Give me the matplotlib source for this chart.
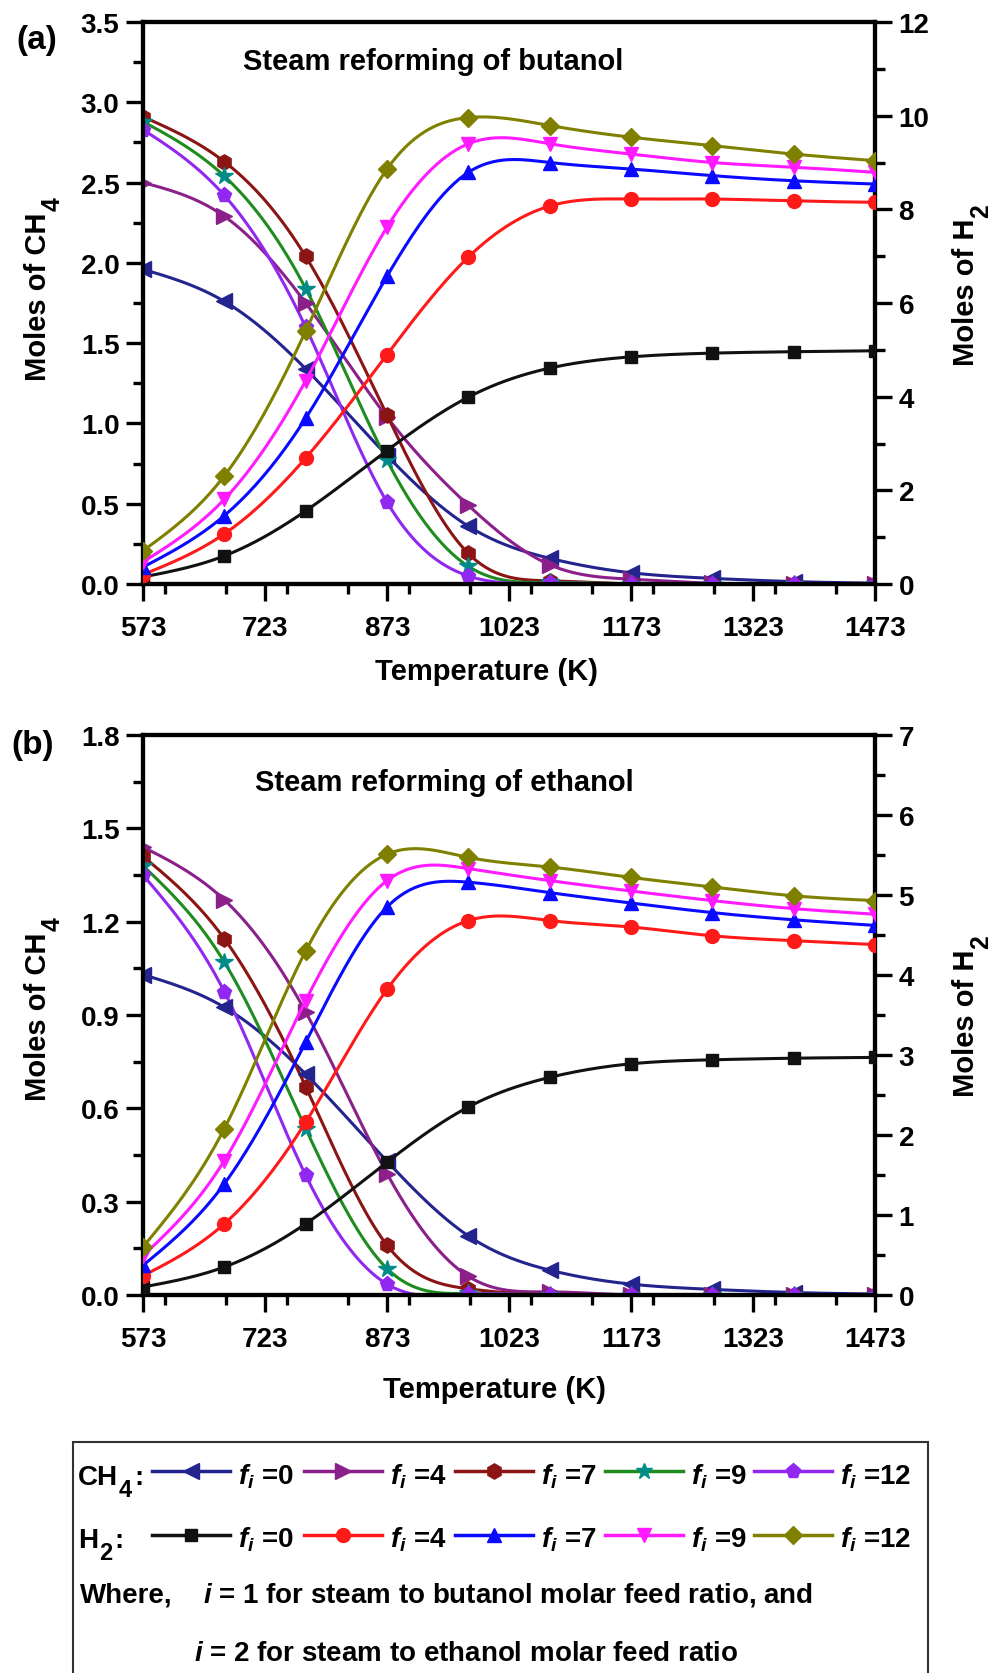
import numpy as np
import matplotlib
matplotlib.use("Agg")
import matplotlib.pyplot as plt
from matplotlib.lines import Line2D
from matplotlib.patches import Rectangle
from matplotlib.ticker import MultipleLocator, FormatStrFormatter

# -----------------------------
# Data
# -----------------------------
temps = [573, 673, 773, 873, 973, 1073, 1173, 1273, 1373, 1473]
feed_ratios = [0, 4, 7, 9, 12]

# (a) steam reforming of butanol
but_ch4_f0 = [1.96, 1.76, 1.34, 0.80, 0.36, 0.16, 0.07, 0.035, 0.015, 0.005]
but_ch4_f4 = [2.50, 2.29, 1.75, 1.04, 0.49, 0.12, 0.03, 0.005, 0.0, 0.0]
but_ch4_f7 = [2.91, 2.63, 2.04, 1.05, 0.19, 0.02, 0.0, 0.0, 0.0, 0.0]
but_ch4_f9 = [2.88, 2.54, 1.84, 0.77, 0.11, 0.01, 0.0, 0.0, 0.0, 0.0]
but_ch4_f12 = [2.83, 2.42, 1.60, 0.51, 0.05, 0.005, 0.0, 0.0, 0.0, 0.0]

but_h2_f0 = [0.15, 0.60, 1.56, 2.85, 3.99, 4.61, 4.85, 4.93, 4.96, 4.98]
but_h2_f4 = [0.20, 1.07, 2.69, 4.90, 6.98, 8.07, 8.22, 8.22, 8.18, 8.15]
but_h2_f7 = [0.36, 1.46, 3.54, 6.57, 8.79, 9.00, 8.86, 8.72, 8.61, 8.54]
but_h2_f9 = [0.47, 1.81, 4.34, 7.62, 9.40, 9.40, 9.18, 9.00, 8.90, 8.79]
but_h2_f12 = [0.71, 2.31, 5.40, 8.86, 9.96, 9.79, 9.54, 9.36, 9.18, 9.04]

# (b) steam reforming of ethanol
eth_ch4_f0 = [1.03, 0.925, 0.71, 0.43, 0.19, 0.08, 0.035, 0.018, 0.008, 0.003]
eth_ch4_f4 = [1.44, 1.27, 0.91, 0.39, 0.06, 0.01, 0.0, 0.0, 0.0, 0.0]
eth_ch4_f7 = [1.41, 1.145, 0.67, 0.16, 0.02, 0.0, 0.0, 0.0, 0.0, 0.0]
eth_ch4_f9 = [1.38, 1.07, 0.535, 0.085, 0.005, 0.0, 0.0, 0.0, 0.0, 0.0]
eth_ch4_f12 = [1.35, 0.975, 0.385, 0.035, 0.002, 0.0, 0.0, 0.0, 0.0, 0.0]

eth_h2_f0 = [0.10, 0.35, 0.89, 1.66, 2.35, 2.72, 2.89, 2.94, 2.96, 2.97]
eth_h2_f4 = [0.24, 0.89, 2.16, 3.82, 4.68, 4.68, 4.60, 4.49, 4.43, 4.38]
eth_h2_f7 = [0.37, 1.39, 3.16, 4.85, 5.16, 5.03, 4.90, 4.78, 4.69, 4.62]
eth_h2_f9 = [0.49, 1.68, 3.68, 5.18, 5.33, 5.18, 5.05, 4.93, 4.83, 4.76]
eth_h2_f12 = [0.60, 2.08, 4.30, 5.51, 5.47, 5.35, 5.22, 5.10, 4.99, 4.93]

# -----------------------------
# Styles
# -----------------------------
ch4_colors = ["#24248f", "#8b208b", "#8b1414", "#1e8c1e", "#9128f0"]
ch4_marker_colors = ["#24248f", "#8b208b", "#8b1414", "#008b8b", "#9128f0"]
ch4_markers = ["<", ">", "h", "*", "p"]
h2_colors = ["#111111", "#ff1a1a", "#0a0aff", "#ff1aff", "#808000"]
h2_markers = ["s", "o", "^", "v", "D"]

W, H = 995, 1674

plt.rcParams["font.family"] = "Liberation Sans"
plt.rcParams["font.weight"] = "bold"
plt.rcParams["mathtext.fontset"] = "custom"
plt.rcParams["mathtext.rm"] = "Liberation Sans:bold"
plt.rcParams["mathtext.it"] = "Liberation Sans:italic:bold"
plt.rcParams["mathtext.bf"] = "Liberation Sans:bold"


def fx(x):
    return x / W


def fy(y):
    return 1 - y / H


# -----------------------------
# Natural cubic spline for the smooth connecting lines
# -----------------------------
def smooth(x, y, num=300):
    x = np.asarray(x, float)
    y = np.asarray(y, float)
    n = len(x)
    h = np.diff(x)
    A = np.zeros((n, n))
    b = np.zeros(n)
    A[0, 0] = A[-1, -1] = 1
    for i in range(1, n - 1):
        A[i, i - 1] = h[i - 1]
        A[i, i] = 2 * (h[i - 1] + h[i])
        A[i, i + 1] = h[i]
        b[i] = 6 * ((y[i + 1] - y[i]) / h[i] - (y[i] - y[i - 1]) / h[i - 1])
    M = np.linalg.solve(A, b)

    xs = np.linspace(x[0], x[-1], num)
    idx = np.clip(np.searchsorted(x, xs) - 1, 0, n - 2)
    x0, x1 = x[idx], x[idx + 1]
    hh = x1 - x0
    t0, t1 = x1 - xs, xs - x0
    ys = (M[idx] * t0 ** 3 / (6 * hh) + M[idx + 1] * t1 ** 3 / (6 * hh)
          + (y[idx] / hh - M[idx] * hh / 6) * t0
          + (y[idx + 1] / hh - M[idx + 1] * hh / 6) * t1)
    return xs, ys


def draw_series(ax, y, color, marker, mcolor, ms=10):
    xs, ys = smooth(temps, y)
    ax.plot(xs, ys, color=color, lw=2.2, zorder=3)
    ax.plot(temps, y, ls="none", marker=marker, ms=ms, color=mcolor,
            mec=mcolor, zorder=4)


def style_axes(ax, ax2, ylim, ystep, y2lim, y2step, yfmt):
    ax.set_xlim(573, 1473)
    ax.set_ylim(*ylim)
    ax2.set_ylim(*y2lim)
    ax.xaxis.set_major_locator(MultipleLocator(150))
    ax.xaxis.set_minor_locator(MultipleLocator(75))
    ax.yaxis.set_major_locator(MultipleLocator(ystep))
    ax.yaxis.set_minor_locator(MultipleLocator(ystep / 2))
    ax.yaxis.set_major_formatter(FormatStrFormatter(yfmt))
    ax2.yaxis.set_major_locator(MultipleLocator(y2step))
    ax2.yaxis.set_minor_locator(MultipleLocator(y2step / 2))

    for a in (ax, ax2):
        for s in a.spines.values():
            s.set_linewidth(3)
        a.tick_params(which="major", direction="out", length=12, width=2.4,
                      labelsize=20)
        a.tick_params(which="minor", direction="out", length=7, width=2.4)
    ax.tick_params(axis="x", pad=10)
    ax.tick_params(axis="y", pad=5)
    ax2.tick_params(axis="y", pad=5)
    ax.set_xticks([573, 723, 873, 1023, 1173, 1323, 1473])


def draw_panel(rect, ch4_sets, h2_sets, ylim, ystep, y2lim, y2step, yfmt):
    ax = fig.add_axes(rect)
    ax2 = ax.twinx()
    ax.set_zorder(1)
    ax2.set_zorder(2)
    ax.patch.set_visible(False)
    for y, c, m, mc in zip(ch4_sets, ch4_colors, ch4_markers, ch4_marker_colors):
        draw_series(ax, y, c, m, mc, ms=13 if m == "*" else 11)
    for y, c, m in zip(h2_sets, h2_colors, h2_markers):
        draw_series(ax2, y, c, m, c, ms=9 if m in ("s", "D") else 10)
    style_axes(ax, ax2, ylim, ystep, y2lim, y2step, yfmt)
    return ax, ax2


# -----------------------------
# Text with a large, dropped subscript (like the original)
# -----------------------------
def sub_text(x, y, main, sub, size, tail="", vertical=False, center=True,
             drop=14, sub_scale=0.85, gap=1):
    renderer = fig.canvas.get_renderer()
    rot = 90 if vertical else 0
    kw = dict(rotation=rot, rotation_mode="anchor", ha="left", va="baseline")
    t = fig.text(0, 0, main, fontsize=size, **kw)
    s = fig.text(0, 0, sub, fontsize=size * sub_scale, **kw)
    r = fig.text(0, 0, tail, fontsize=size, **kw) if tail else None

    def length(obj):
        e = obj.get_window_extent(renderer)
        return e.height if vertical else e.width

    lm, ls = length(t), length(s)
    lt = length(r) if r else 0
    total = lm + gap + ls + (gap + lt if r else 0)
    start = total / 2 if center else 0
    if vertical:
        y0 = y + start
        t.set_position((fx(x), fy(y0)))
        s.set_position((fx(x + drop), fy(y0 - lm - gap)))
        if r:
            r.set_position((fx(x), fy(y0 - lm - ls - 2 * gap)))
    else:
        x0 = x - start
        t.set_position((fx(x0), fy(y)))
        s.set_position((fx(x0 + lm + gap), fy(y + drop)))
        if r:
            r.set_position((fx(x0 + lm + ls + 3 * gap), fy(y)))


# -----------------------------
# Figure
# -----------------------------
fig = plt.figure(figsize=(W / 100, H / 100), dpi=100)

ax_a, ax_a2 = draw_panel(
    [fx(143), fy(585), fx(732), 562 / H],
    [but_ch4_f0, but_ch4_f4, but_ch4_f7, but_ch4_f9, but_ch4_f12],
    [but_h2_f0, but_h2_f4, but_h2_f7, but_h2_f9, but_h2_f12],
    (0, 3.5), 0.5, (0, 12), 2, "%.1f")

ax_b, ax_b2 = draw_panel(
    [fx(143), fy(1296), fx(732), 560 / H],
    [eth_ch4_f0, eth_ch4_f4, eth_ch4_f7, eth_ch4_f9, eth_ch4_f12],
    [eth_h2_f0, eth_h2_f4, eth_h2_f7, eth_h2_f9, eth_h2_f12],
    (0, 1.8), 0.3, (0, 7), 1, "%.1f")

# panel texts
fig.text(fx(243), fy(70), "Steam reforming of butanol", fontsize=21,
         ha="left", va="baseline")
fig.text(fx(255), fy(791), "Steam reforming of ethanol", fontsize=21,
         ha="left", va="baseline")
fig.text(fx(37), fy(40), "(a)", fontsize=24, ha="center", va="center")
fig.text(fx(33), fy(746), "(b)", fontsize=24, ha="center", va="center")

for yc in (289, 1009):
    sub_text(46, yc, "Moles of CH", "4", 21, vertical=True, drop=14)
for yc in (285, 1016):
    sub_text(974, yc, "Moles of H", "2", 21, vertical=True, drop=14)
fig.text(fx(487), fy(672), "Temperature (K)", fontsize=21, ha="center",
         va="center")
fig.text(fx(495), fy(1390), "Temperature (K)", fontsize=21, ha="center",
         va="center")

# -----------------------------
# Legend box (drawn by hand)
# -----------------------------
fig.add_artist(Rectangle((fx(73), fy(1685)), fx(928 - 73), (1685 - 1443) / H,
                         transform=fig.transFigure, fill=False,
                         ec="#333333", lw=1.5))

seg_starts = [152, 304, 455, 605, 754]
seg_len = 78


def legend_row(y_line, y_base, head, head_sub, colors, markers, mcolors,
               sizes):
    sub_text(78, y_base, head, head_sub, 20, tail=":", center=False, drop=12)
    for x0, c, m, mc, s, f in zip(seg_starts, colors, markers, mcolors,
                                  sizes, feed_ratios):
        fig.add_artist(Line2D([fx(x0), fx(x0 + seg_len / 2), fx(x0 + seg_len)],
                              [fy(y_line)] * 3, transform=fig.transFigure,
                              color=c, lw=2.5, marker=m, markevery=[1],
                              ms=s, mfc=mc, mec=mc))
        fig.text(fx(x0 + seg_len + 8), fy(y_base), r"$f_i$ =%d" % f,
                 fontsize=20, ha="left", va="baseline")


legend_row(1472, 1485, "CH", "4", ch4_colors, ch4_markers, ch4_marker_colors,
           [11, 11, 11, 12, 11])
legend_row(1536, 1548, "H", "2", h2_colors, h2_markers, h2_colors,
           [9, 10, 10, 10, 9])

fig.text(fx(80), fy(1603), "Where,", fontsize=20, ha="left", va="baseline")
fig.text(fx(203), fy(1603), "$i$ = 1 for steam to butanol molar feed ratio, and",
         fontsize=20, ha="left", va="baseline")
fig.text(fx(194), fy(1661), "$i$ = 2 for steam to ethanol molar feed ratio",
         fontsize=20, ha="left", va="baseline")

fig.savefig("out.png", dpi=100)
